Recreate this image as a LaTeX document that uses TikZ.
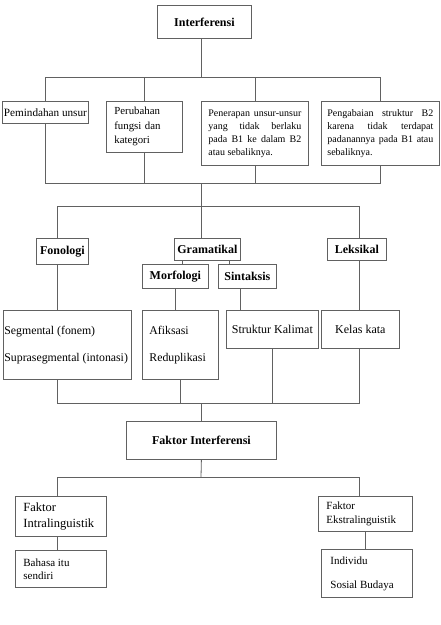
\documentclass[tikz,border=0pt]{standalone}
\usepackage{fontspec}
\setmainfont{Liberation Serif}
\definecolor{GarisAbu}{rgb}{0.38, 0.38, 0.38}
\hyphenpenalty=10000
\exhyphenpenalty=10000

\begin{document}
\begin{tikzpicture}[
    x=1pt, y=-1pt,
    kotak/.style={draw=GarisAbu, line width=0.8pt, anchor=north west,
        inner sep=0pt, align=center,
        execute at begin node={\spaceskip=0pt\xspaceskip=0pt\relax}},
    tebal/.style={kotak, font=\fontsize{12}{14}\selectfont\bfseries},
    garis/.style={draw=GarisAbu, line width=0.8pt},
]
\useasboundingbox (0,0) rectangle (440,625);

% sumbu dan jalur penghubung
\coordinate (sumbuL) at (57,0);
\coordinate (sumbuR) at (359,0);
\coordinate (b1) at (201,77);
\coordinate (b2) at (201,183);
\coordinate (b3) at (201,206);
\coordinate (b4) at (201,403);
\coordinate (b5) at (201,477);

% tingkat atas
\node[tebal, minimum width=94, minimum height=33] (interf) at (157,5) {Interferensi};

\node[kotak, minimum width=86, minimum height=22, font=\fontsize{11.2}{13}\selectfont] (pindah) at (2,101) {Pemindahan unsur};
\node[kotak, minimum height=51, text width=60, inner xsep=8, align=left,
    font=\fontsize{10.8}{14.5}\selectfont] (ubah) at (106,101) {Perubahan fungsi dan kategori};
\node[kotak, minimum height=64, text width=93, inner xsep=7, align=justify,
    font=\fontsize{10}{13}\selectfont] (terap) at (201,101) {Penerapan unsur-unsur yang tidak berlaku pada B1 ke dalam B2 atau sebaliknya.};
\node[kotak, minimum height=64, text width=106, inner xsep=6, align=justify,
    font=\fontsize{10}{13}\selectfont] (abai) at (321,101) {Pengabaian struktur B2 karena tidak terdapat padanannya pada B1 atau sebaliknya.};

% aspek interferensi
\foreach \nama/\x/\y/\w/\h/\isi in {%
    fono/36/238/52/26/Fonologi,
    gram/174/238/66/22/Gramatikal,
    leks/327/238/59/22/Leksikal,
    mor/142/264/66/24/Morfologi,
    sin/218/264/58/24/Sintaksis%
}{
    \node[tebal, minimum width=\w, minimum height=\h] (\nama) at (\x,\y) {\isi};
}

\node[kotak, minimum height=69, text width=126, inner xsep=1, align=left,
    font=\fontsize{11.8}{27}\selectfont] (seg) at (3,310) {Segmental (fonem)\\Suprasegmental (intonasi)};
\node[kotak, minimum height=69, text width=62, inner xsep=7, align=left,
    font=\fontsize{11.8}{27}\selectfont] (afik) at (142,310) {Afiksasi\\Reduplikasi};
\node[kotak, minimum width=92, minimum height=38, font=\fontsize{12}{14}\selectfont] (struk) at (226,310) {Struktur Kalimat};
\node[kotak, minimum width=78, minimum height=38, font=\fontsize{12}{14}\selectfont] (kelas) at (321,310) {Kelas kata};

% faktor
\node[tebal, minimum width=150, minimum height=38] (fakt) at (126,421) {Faktor Interferensi};

\node[kotak, minimum height=40, text width=75, inner xsep=8, align=left,
    font=\fontsize{12.5}{16}\selectfont] (intra) at (15,496) {Faktor\\Intralinguistik};
\node[kotak, minimum height=37, text width=75, inner xsep=8, align=left,
    font=\fontsize{11}{13}\selectfont] (bhs) at (15,550) {Bahasa itu\\sendiri};
\node[kotak, minimum height=35, text width=78, inner xsep=8, align=left,
    font=\fontsize{11}{14}\selectfont] (ekstra) at (318,496) {Faktor\\Ekstralinguistik};
\node[kotak, minimum height=48, text width=73, inner xsep=9, align=left,
    font=\fontsize{11}{24}\selectfont] (indiv) at (321,549) {Individu\\Sosial Budaya};

% garis baris pertama
\draw[garis] (interf.south -| b1) -- (b1);
\foreach \n in {pindah, ubah, terap, abai}{
    \draw[garis] (\n.north) |- (b1);
    \draw[garis] (\n.south) |- (b2);
}
\draw[garis] (b2) -- (b2 |- gram.north);

% garis aspek
\draw[garis] (b3) -| (sumbuL |- fono.north);
\draw[garis] (b3) -| (sumbuR |- leks.north);
\draw[garis] ([xshift=8pt]gram.south west) -- ([xshift=8pt]gram.south west |- mor.north);
\draw[garis] ([xshift=-11pt]gram.south east) -- ([xshift=-11pt]gram.south east |- sin.north);
\draw[garis] (sumbuL |- fono.south) -- (sumbuL |- seg.north);
\draw[garis] (mor.south) -- (mor.south |- afik.north);
\draw[garis] ([xshift=-7pt]sin.south) -- ([xshift=-7pt]sin.south |- struk.north);
\draw[garis] (sumbuR |- leks.south) -- (sumbuR |- kelas.north);

\draw[garis] (sumbuL |- seg.south) |- (b4);
\draw[garis] (afik.south) |- (b4);
\draw[garis] (struk.south) |- (b4);
\draw[garis] (sumbuR |- kelas.south) |- (b4);
\draw[garis] (b4) -- (b4 |- fakt.north);

% garis faktor
\draw[garis] (fakt.south) -- (b5);
\draw[garis] (b5) -| (sumbuL |- intra.north);
\draw[garis] (b5) -| (sumbuR |- ekstra.north);
\draw[garis] (sumbuL |- intra.south) -- (sumbuL |- bhs.north);
\draw[garis] (ekstra.south) -- (ekstra.south |- indiv.north);

\end{tikzpicture}
\end{document}
